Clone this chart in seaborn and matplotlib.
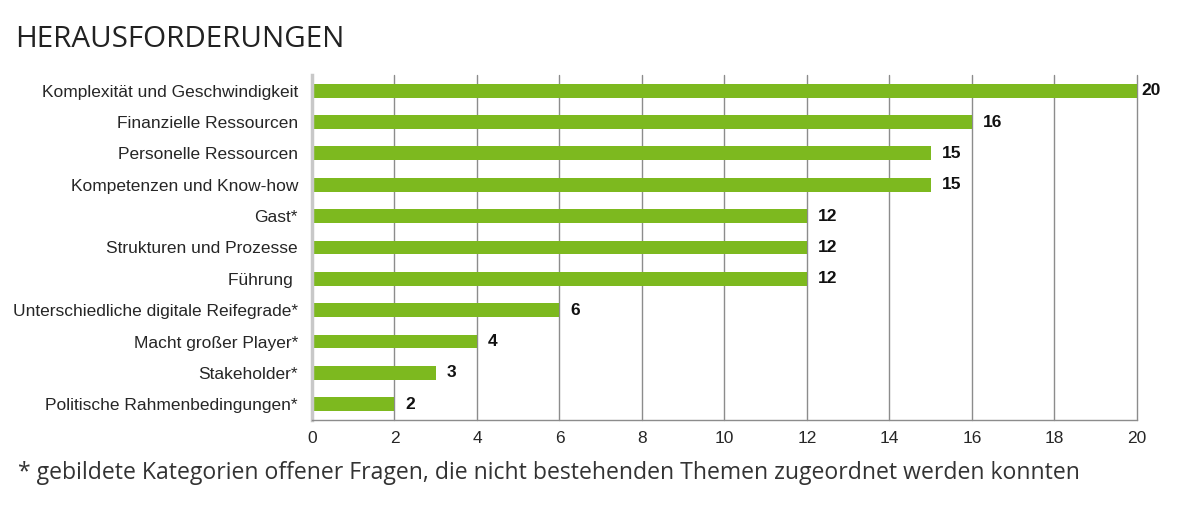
import numpy as np
import pandas as pd
import seaborn as sns
import matplotlib.pyplot as plt

# Daten
kategorien = [
    "Komplexität und Geschwindigkeit",
    "Finanzielle Ressourcen",
    "Personelle Ressourcen",
    "Kompetenzen und Know-how",
    "Gast*",
    "Strukturen und Prozesse",
    "Führung ",
    "Unterschiedliche digitale Reifegrade*",
    "Macht großer Player*",
    "Stakeholder*",
    "Politische Rahmenbedingungen*",
]
werte = [20, 16, 15, 15, 12, 12, 12, 6, 4, 3, 2]
x_ticks = [0, 2, 4, 6, 8, 10, 12, 14, 16, 18, 20]

df = pd.DataFrame({"kategorie": kategorien, "wert": werte})

sns.set_style("white")
plt.rcParams['font.family'] = ['Liberation Sans', 'DejaVu Sans']

fig = plt.figure(figsize=(11.83, 5.09), dpi=100)
ax = fig.add_axes([0.2637, 0.1749, 0.6974, 0.6778])

sns.barplot(data=df, x="wert", y="kategorie", color="#7db91f", width=0.44,
            saturation=1, ax=ax, orient="h", linewidth=0)

ax.set_xlim(0, 20)
ax.set_ylim(len(kategorien) - 0.5, -0.5)
ax.set_xticks(x_ticks)
ax.set_xticklabels([str(t) for t in x_ticks], fontsize=12.5)
ax.set_xlabel("")
ax.set_ylabel("")
ax.xaxis.grid(True, color="#8c8c8c", linewidth=1)
ax.set_axisbelow(True)
# Gitterlinie bei 20 sonst am Rand abgeschnitten
for gl in ax.get_xgridlines():
    gl.set_clip_on(False)

# Tick-Striche zwischen den Kategorien
ax.set_yticks(np.arange(len(kategorien)))
ax.set_yticklabels(kategorien, fontsize=12.5)
ax.set_yticks(np.arange(len(kategorien) + 1) - 0.5, minor=True)
ax.tick_params(axis="y", which="major", length=0, pad=10)
ax.tick_params(axis="y", which="minor", length=7, color="#8c8c8c", width=1)
ax.tick_params(axis="x", length=5, color="#8c8c8c", width=1, pad=3)

for side in ["top", "right"]:
    ax.spines[side].set_visible(False)
ax.spines["left"].set_color("#c8c8c8")
ax.spines["left"].set_linewidth(2.5)
ax.spines["bottom"].set_color("#8c8c8c")
ax.spines["bottom"].set_linewidth(1)

for i, v in enumerate(werte):
    abstand = 0.1 if v == 20 else 0.27
    ax.text(v + abstand, i, str(v), va="center", ha="left",
            fontsize=12.5, fontweight="bold", color="#111111")

fig.text(0.0127, 0.922, "HERAUSFORDERUNGEN", fontsize=21.3, color="#222222",
         family=["Open Sans", "DejaVu Sans"], va="center", ha="left")
fig.text(0.015, 0.07,
         "* gebildete Kategorien offener Fragen, die nicht bestehenden Themen zugeordnet werden konnten",
         fontsize=16.6, color="#333333", family=["Open Sans", "DejaVu Sans"],
         va="center", ha="left")

fig.savefig("out.png", dpi=100)
